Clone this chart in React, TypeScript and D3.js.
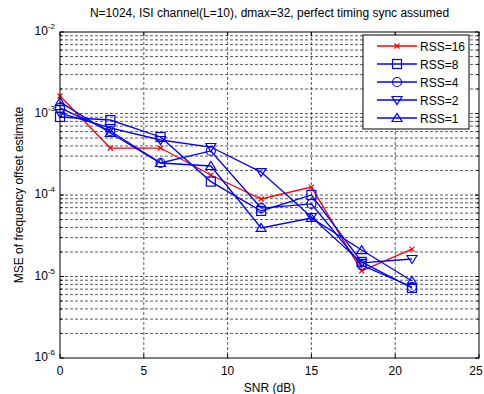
import React from "react";
import * as d3 from "d3";

const snr = [0, 3, 6, 9, 12, 15, 18, 21];
const rss16 = [1.64e-3, 3.77e-4, 3.77e-4, 1.76e-4, 8.93e-5, 1.25e-4, 1.17e-5, 2.17e-5];
const rss8 = [9.06e-4, 8.32e-4, 5.15e-4, 1.46e-4, 6.37e-5, 1.0e-4, 1.51e-5, 7.23e-6];
const rss4 = [1.17e-3, 6.1e-4, 2.47e-4, 3.47e-4, 6.92e-5, 7.76e-5, 1.38e-5, 7.43e-6];
const rss2 = [1.01e-3, 6.64e-4, 4.73e-4, 3.88e-4, 1.91e-4, 5.37e-5, 1.47e-5, 1.64e-5];
const rss1 = [1.38e-3, 5.77e-4, 2.47e-4, 2.27e-4, 3.94e-5, 5.22e-5, 2.11e-5, 8.81e-6];

const seriesNames = ["RSS=16", "RSS=8", "RSS=4", "RSS=2", "RSS=1"];
const seriesValues = [rss16, rss8, rss4, rss2, rss1];
const seriesColors = ["#ff0000", "#0000ff", "#0000ff", "#0000ff", "#0000ff"];
const seriesMarkers = ["x", "square", "circle", "tridown", "triup"];

const xTicks = [0, 5, 10, 15, 20, 25];
const yDecades = [-6, -5, -4, -3, -2];

const W = 484, H = 394;
const L = 60, R = 479, T = 32, B = 358;
const FONT = "'Liberation Sans', Arial, sans-serif";

function Marker({ type, x, y, color }: { type: string; x: number; y: number; color: string }) {
  const s = 4.5;
  if (type === "x") {
    return (
      <g stroke={color} strokeWidth={1.2}>
        <line x1={x - 2.5} y1={y - 2.5} x2={x + 2.5} y2={y + 2.5} />
        <line x1={x - 2.5} y1={y + 2.5} x2={x + 2.5} y2={y - 2.5} />
      </g>
    );
  }
  if (type === "square") {
    return <rect x={x - s} y={y - s} width={2 * s} height={2 * s} fill="none" stroke={color} strokeWidth={1.2} />;
  }
  if (type === "circle") {
    return <circle cx={x} cy={y} r={s} fill="none" stroke={color} strokeWidth={1.2} />;
  }
  if (type === "tridown") {
    return (
      <path d={`M${x - s - 0.5},${y - s + 1}L${x + s + 0.5},${y - s + 1}L${x},${y + s}Z`} fill="none" stroke={color} strokeWidth={1.2} />
    );
  }
  return (
    <path d={`M${x - s - 0.5},${y + s - 1}L${x + s + 0.5},${y + s - 1}L${x},${y - s}Z`} fill="none" stroke={color} strokeWidth={1.2} />
  );
}

export default function App() {
  const x = d3.scaleLinear().domain([0, 25]).range([L, R]);
  const y = d3.scaleLog().domain([1e-6, 1e-2]).range([B, T]);

  const minorY: number[] = [];
  for (let e = -6; e < -2; e++) {
    for (let m = 2; m <= 9; m++) minorY.push(m * Math.pow(10, e));
  }
  const majorY = yDecades.map((e) => Math.pow(10, e));

  const line = d3
    .line<number>()
    .x((_, i) => x(snr[i]))
    .y((d) => y(d));

  const grid = "#000";
  const dash = "3,2";

  const legX = 363, legY = 35, legW = 106, legH = 94;

  return (
    <svg width={W} height={H} style={{ position: "absolute", left: 0, top: 0, background: "#fff" }} fontFamily={FONT}>
      <rect x={0} y={0} width={W} height={H} fill="#fff" />
      <rect x={L} y={T} width={R - L} height={B - T} fill="#fff" />
      {/* grid */}
      <g stroke={grid} strokeWidth={0.8} strokeDasharray={dash} opacity={0.8}>
        {xTicks.slice(1, -1).map((t) => (
          <line key={"gx" + t} x1={x(t)} x2={x(t)} y1={T} y2={B} />
        ))}
        {minorY.concat(majorY.slice(1, -1)).map((v, i) => (
          <line key={"gy" + i} x1={L} x2={R} y1={y(v)} y2={y(v)} />
        ))}
      </g>
      {/* ticks */}
      <g stroke="#000" strokeWidth={1}>
        {xTicks.map((t) => (
          <g key={"tx" + t}>
            <line x1={x(t)} x2={x(t)} y1={B} y2={B - 4} />
            <line x1={x(t)} x2={x(t)} y1={T} y2={T + 4} />
          </g>
        ))}
        {majorY.map((v, i) => (
          <g key={"ty" + i}>
            <line x1={L} x2={L + 4} y1={y(v)} y2={y(v)} />
            <line x1={R} x2={R - 4} y1={y(v)} y2={y(v)} />
          </g>
        ))}
        {minorY.map((v, i) => (
          <g key={"tmy" + i}>
            <line x1={L} x2={L + 2} y1={y(v)} y2={y(v)} />
            <line x1={R} x2={R - 2} y1={y(v)} y2={y(v)} />
          </g>
        ))}
      </g>
      {/* series */}
      {seriesValues.map((vals, si) => (
        <g key={"s" + si}>
          <path d={line(vals) || ""} fill="none" stroke={seriesColors[si]} strokeWidth={1.3} />
          {vals.map((v, i) => (
            <Marker key={i} type={seriesMarkers[si]} x={x(snr[i])} y={y(v)} color={seriesColors[si]} />
          ))}
        </g>
      ))}
      {/* box */}
      <rect x={L} y={T} width={R - L} height={B - T} fill="none" stroke="#000" strokeWidth={1} />
      {/* x tick labels */}
      <g fontSize={12} fill="#000" textAnchor="middle">
        {xTicks.map((t, i) => (
          <text key={"lx" + t} x={i === xTicks.length - 1 ? x(t) - 3 : x(t)} y={375}>
            {t}
          </text>
        ))}
      </g>
      {/* y tick labels */}
      <g fontSize={12} fill="#000">
        {yDecades.map((e) => (
          <text key={"ly" + e} x={55} y={y(Math.pow(10, e)) + 3} textAnchor="end">
            10
            <tspan fontSize={8} dy={-6}>
              {e}
            </tspan>
          </text>
        ))}
      </g>
      {/* labels */}
      <text x={(L + R) / 2} y={17} textAnchor="middle" fontSize={12} fill="#000">
        N=1024, ISI channel(L=10), dmax=32, perfect timing sync assumed
      </text>
      <text x={(L + R) / 2} y={392} textAnchor="middle" fontSize={12} fill="#000">
        SNR (dB)
      </text>
      <text transform={`translate(23,${(T + B) / 2}) rotate(-90)`} textAnchor="middle" fontSize={12} fill="#000">
        MSE of frequency offset estimate
      </text>
      {/* legend */}
      <rect x={legX} y={legY} width={legW} height={legH} fill="#fff" stroke="#000" strokeWidth={1} />
      {seriesNames.map((n, i) => {
        const ly = legY + 11 + i * 18;
        return (
          <g key={"lg" + i}>
            <line x1={377} x2={417} y1={ly} y2={ly} stroke={seriesColors[i]} strokeWidth={1.3} />
            <Marker type={seriesMarkers[i]} x={397} y={ly} color={seriesColors[i]} />
            <text x={420} y={ly + 4.5} fontSize={12} fill="#000">
              {n}
            </text>
          </g>
        );
      })}
    </svg>
  );
}
